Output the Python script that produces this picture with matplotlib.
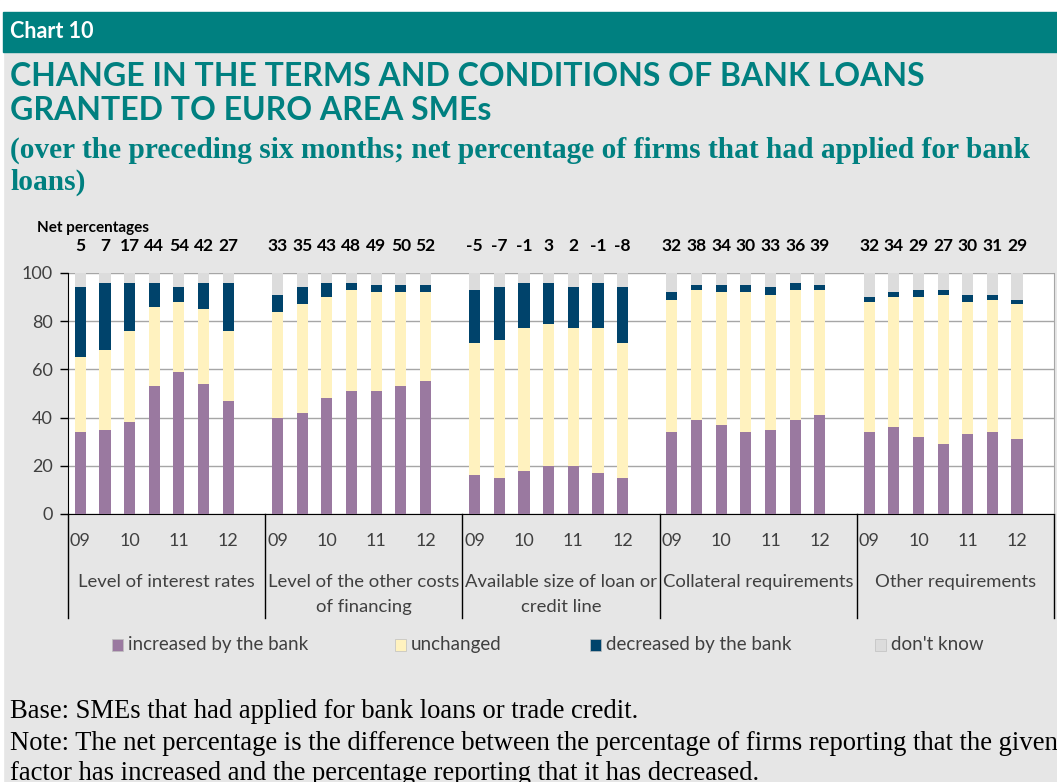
import matplotlib
matplotlib.use('Agg')
import matplotlib.pyplot as plt
from matplotlib.patches import Rectangle
import numpy as np

# data (percentages, each bar sums to 100)
groups = ['Level of interest rates', 'Level of the other costs\nof financing',
          'Available size of loan or\ncredit line', 'Collateral requirements', 'Other requirements']
years = ['09', '10', '11', '12']
increased = [[34, 35, 38, 53, 59, 54, 47],
             [40, 42, 48, 51, 51, 53, 55],
             [16, 15, 18, 20, 20, 17, 15],
             [34, 39, 37, 34, 35, 39, 41],
             [34, 36, 32, 29, 33, 34, 31]]
unchanged = [[31, 33, 38, 33, 29, 31, 29],
             [44, 45, 42, 42, 41, 39, 37],
             [55, 57, 59, 59, 57, 60, 56],
             [55, 54, 55, 58, 56, 54, 52],
             [54, 54, 58, 62, 55, 55, 56]]
decreased = [[29, 28, 20, 10, 6, 11, 20],
             [7, 7, 6, 3, 3, 3, 3],
             [22, 22, 19, 17, 17, 19, 23],
             [3, 2, 3, 3, 3, 3, 2],
             [2, 2, 3, 2, 3, 2, 2]]
dont_know = [[6, 4, 4, 4, 6, 4, 4],
             [9, 6, 4, 4, 5, 5, 5],
             [7, 6, 4, 4, 6, 4, 6],
             [8, 5, 5, 5, 6, 4, 5],
             [10, 8, 7, 7, 9, 9, 11]]
net_labels = [['5', '7', '17', '44', '54', '42', '27'],
              ['33', '35', '43', '48', '49', '50', '52'],
              ['-5', '-7', '-1', '3', '2', '-1', '-8'],
              ['32', '38', '34', '30', '33', '36', '39'],
              ['32', '34', '29', '27', '30', '31', '29']]
series_names = ['increased by the bank', 'unchanged', 'decreased by the bank', "don't know"]

colors = ['#9A79A0', '#FFF2BF', '#00436B', '#DCDCDC']
teal = '#008080'
bg = '#E6E6E6'
W, H = 1057, 782

def fx(px):
    return px / W

def fy(py):
    return 1 - py / H

fig = plt.figure(figsize=(W / 100, H / 100), dpi=100, facecolor=bg)

# white margins and teal header band
fig.patches.append(Rectangle((0, fy(12)), 1, 12 / H, transform=fig.transFigure, color='white', zorder=0))
fig.patches.append(Rectangle((0, 0), fx(3), 1, transform=fig.transFigure, color='white', zorder=0))
fig.patches.append(Rectangle((fx(3), fy(52)), 1, 40 / H, transform=fig.transFigure, color=teal, zorder=1))

fig.text(fx(10), fy(32), 'Chart 10', color='white', fontsize=15.5, fontweight='bold',
         family='Lato', va='center')
fig.text(fx(10), fy(77), 'CHANGE IN THE TERMS AND CONDITIONS OF BANK LOANS', color=teal,
         fontsize=23, fontweight='bold', family='Lato', va='center')
fig.text(fx(10), fy(111), 'GRANTED TO EURO AREA SMEs', color=teal,
         fontsize=23, fontweight='bold', family='Lato', va='center')
fig.text(fx(10), fy(150), '(over the preceding six months; net percentage of firms that had applied for bank',
         color=teal, fontsize=21.2, fontweight='bold', family='Liberation Serif', va='center')
fig.text(fx(10), fy(182), 'loans)', color=teal, fontsize=21.2, fontweight='bold',
         family='Liberation Serif', va='center')

ax = fig.add_axes([fx(68), fy(514), fx(1054) - fx(68), 241 / H])
ax.set_facecolor('white')

n = len(increased[0])
slot = n + 1
for g in range(len(groups)):
    x = np.arange(n) + g * slot + 0.5
    bottom = np.zeros(n)
    for s, vals in enumerate([increased[g], unchanged[g], decreased[g], dont_know[g]]):
        ax.bar(x, vals, 0.45, bottom=bottom, color=colors[s], zorder=3,
               label=series_names[s] if g == 0 else None)
        bottom = bottom + np.array(vals)
    for xi, lab in zip(x, net_labels[g]):
        ax.text(xi, 111, lab, ha='center', va='center', fontsize=12.5, fontweight='bold',
                family='Lato', clip_on=False)
    for k, yr in enumerate(years):
        ax.text(x[2 * k], -11, yr, ha='center', va='center', fontsize=13, color='#404040',
                family='Lato', clip_on=False)
    for i, line in enumerate(groups[g].split('\n')):
        ax.text(g * slot + slot / 2, -30.3 - 10.4 * i, line, ha='center', va='baseline', fontsize=13.3,
                color='#404040', family='Lato', clip_on=False)
    ax.plot([g * slot, g * slot], [0, -43], color='black', lw=1, clip_on=False)
ax.plot([len(groups) * slot] * 2, [0, -43], color='black', lw=1, clip_on=False)

ax.set_xlim(0, len(groups) * slot)
ax.set_ylim(0, 100)
ax.set_xticks([])
ax.set_yticks(np.arange(0, 101, 20))
ax.tick_params(axis='y', length=6, width=1, pad=5, labelsize=13, labelcolor='#404040')
for t in ax.get_yticklabels():
    t.set_family('Lato')
ax.grid(axis='y', color='#A6A6A6', lw=1, zorder=0)
ax.spines['left'].set_color('black')
ax.spines['bottom'].set_color('black')
ax.spines['right'].set_color('#A6A6A6')
ax.spines['top'].set_visible(False)

fig.text(fx(37), fy(228), 'Net percentages', fontsize=11, fontweight='bold', family='Lato', va='center')

# legend laid out like the original
leg_x = [112, 395, 590, 875]
for s, name in enumerate(series_names):
    fig.patches.append(Rectangle((fx(leg_x[s]), fy(651)), 11 / W, 12 / H, transform=fig.transFigure,
                                 facecolor=colors[s], edgecolor='#BFBFBF', lw=0.5))
    fig.text(fx(leg_x[s] + 16), fy(650), name, fontsize=13.5, color='#404040', family='Lato', va='baseline')

fig.text(fx(10), fy(712), 'Base: SMEs that had applied for bank loans or trade credit.',
         fontsize=19.2, family='Liberation Serif', va='center')
fig.text(fx(10), fy(743), 'Note: The net percentage is the difference between the percentage of firms reporting that the given',
         fontsize=19.2, family='Liberation Serif', va='center')
fig.text(fx(10), fy(774), 'factor has increased and the percentage reporting that it has decreased.',
         fontsize=19.2, family='Liberation Serif', va='center')

fig.savefig('out.png', dpi=100, facecolor=bg)
